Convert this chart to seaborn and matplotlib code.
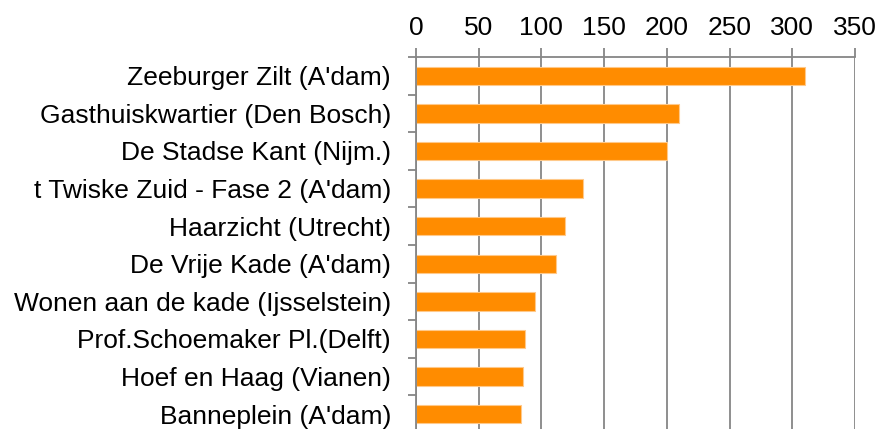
# Import everything --------------------------------------------------------------------
import pandas as pd
import matplotlib.pyplot as plt
import seaborn as sns
from matplotlib.ticker import FixedLocator
# END-------------------------------------------------------------------------------------

# DATA ---------------------------------------------------------------------------------
projects = [
    "Zeeburger Zilt (A'dam)",
    "Gasthuiskwartier (Den Bosch)",
    "De Stadse Kant (Nijm.)",
    "t Twiske Zuid - Fase 2 (A'dam)",
    "Haarzicht (Utrecht)",
    "De Vrije Kade (A'dam)",
    "Wonen aan de kade (Ijsselstein)",
    "Prof.Schoemaker Pl.(Delft)",
    "Hoef en Haag (Vianen)",
    "Banneplein (A'dam)",
]
counts = [310, 210, 200, 133, 119, 112, 95, 87, 85, 84]
x_ticks = [0, 50, 100, 150, 200, 250, 300, 350]

df = pd.DataFrame({'project': projects, 'count': counts})
# END ------------------------------------------------------------------------------------

sns.set_style('white')
plt.rcParams['font.family'] = ['Liberation Sans', 'DejaVu Sans']
plt.rcParams['text.color'] = 'black'
plt.rcParams['xtick.labelcolor'] = 'black'
plt.rcParams['ytick.labelcolor'] = 'black'

grid_col = '#868686'

fig = plt.figure(figsize=(8.81, 4.29), dpi=100)
ax = fig.add_axes([416 / 881, -4 / 429, (855 - 416) / 881, (433 - 57) / 429])

sns.barplot(data=df, x='count', y='project', orient='h', color='#FF8C00',
            saturation=1, width=0.49, edgecolor='#FFC98A', linewidth=0.8, ax=ax)

ax.set_xlim(0, 350)
ax.set_ylim(len(projects) - 0.5, -0.5)
ax.xaxis.set_major_locator(FixedLocator(x_ticks))
ax.xaxis.tick_top()
ax.xaxis.grid(True, color=grid_col, linewidth=1.3)
ax.set_axisbelow(True)

# ticks on category boundaries like the original
ax.yaxis.set_minor_locator(FixedLocator([i - 0.5 for i in range(len(projects) + 1)]))
ax.tick_params(axis='y', which='major', length=0, pad=18, labelsize=19)
ax.tick_params(axis='y', which='minor', length=6, width=1.3, color=grid_col, left=True)
ax.tick_params(axis='x', which='major', length=6.5, width=1.3, color=grid_col,
               pad=6, labelsize=19, top=True, bottom=False)

for side in ['bottom', 'right']:
    ax.spines[side].set_visible(False)
for side in ['top', 'left']:
    ax.spines[side].set_color(grid_col)
    ax.spines[side].set_linewidth(1.3)

ax.set_xlabel('')
ax.set_ylabel('')

fig.savefig('out.png', dpi=100)
